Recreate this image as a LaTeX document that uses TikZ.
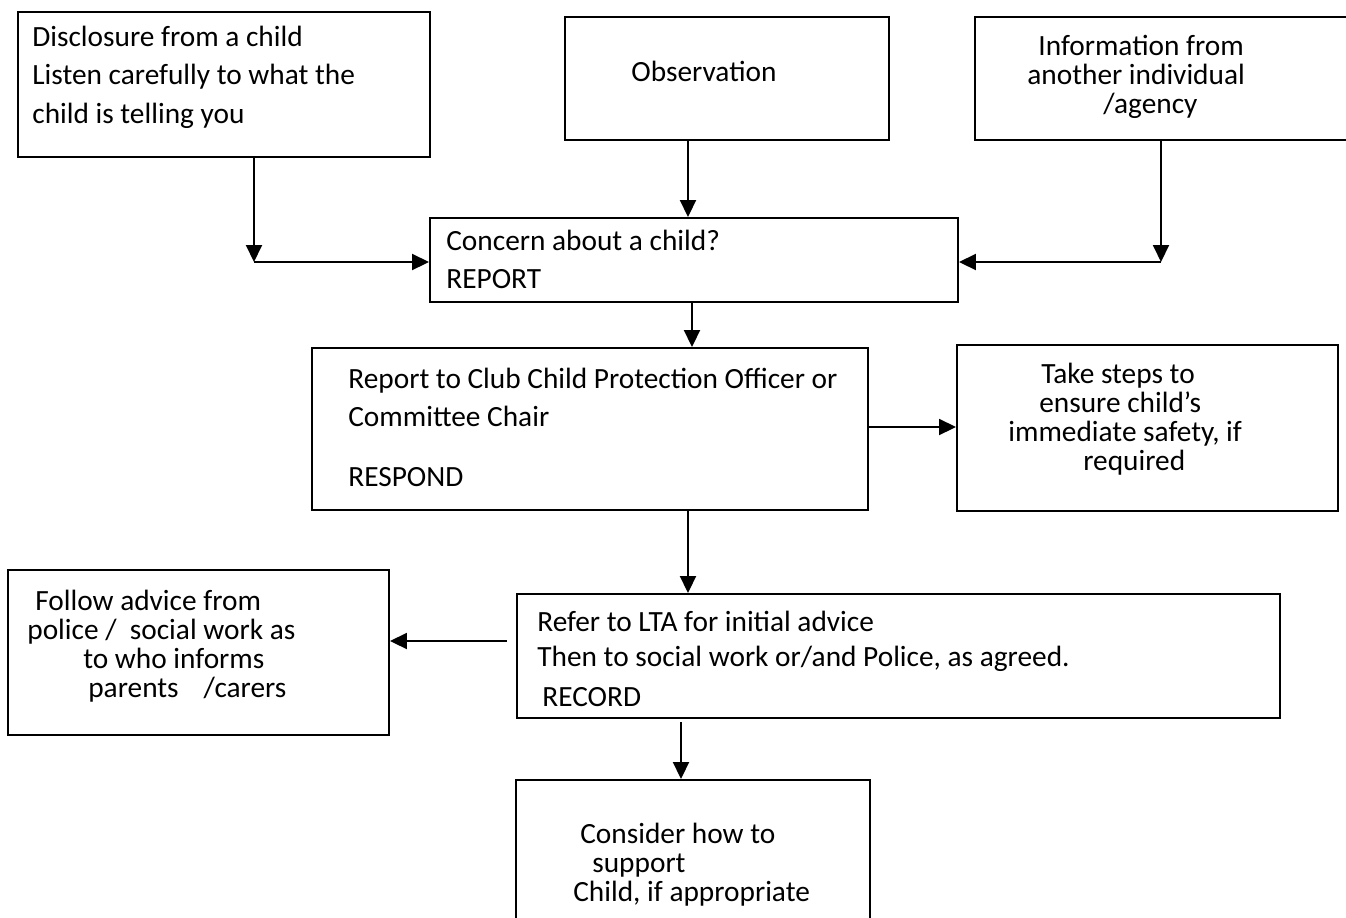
\documentclass[tikz,border=0pt]{standalone}
\usepackage{fontspec}
\setmainfont{Carlito}
\usetikzlibrary{calc}
\usetikzlibrary{fit}
\usetikzlibrary{arrows.meta}

\begin{document}
\begin{tikzpicture}[x=0.02cm, y=-0.02cm,
 box/.style={draw, line width=1.1pt, inner sep=0, fit={#1}},
 txt/.style={inner sep=0, anchor=base west, align=left, font=\fontsize{16.7}{16.4}\selectfont},
 arr/.style={line width=1.1pt, -{Triangle[length=0.34cm,width=0.32cm]}}]
\useasboundingbox (0,0) rectangle (1346,917);
% boxes
\node[box={(18,12) (430,157)}] (disc) {};
\node[box={(565,17) (889,140)}] (obs) {};
\node[box={(975,17) (1352,140)}] (info) {};
\node[box={(430,218) (958,302)}] (concern) {};
\node[box={(312,348) (868,510)}] (report) {};
\node[box={(957,345) (1338,511)}] (steps) {};
\node[box={(8,570) (389,735)}] (follow) {};
\node[box={(517,594) (1280,718)}] (refer) {};
\node[box={(516,780) (870,945)}] (consider) {};
% texts (anchored at the baseline of their last line)
\node[txt] (disctxt) at (32,123) {Disclosure from a child\\[0.19cm]Listen carefully to what the\\[0.19cm]child is telling you};
\node[txt] (obstxt) at (631,81) {Observation};
\node[txt] (infotxt) at (1027,113) {\hspace*{0.22cm}Information from\\another individual\\\hspace*{1.52cm}/agency};
\node[txt] (concerntxt) at (446,288) {Concern about a child?\\[0.18cm]REPORT};
\node[txt] (reporttxt) at (348,486) {Report to Club Child Protection Officer or\\[0.18cm]Committee Chair\\[0.62cm]RESPOND};
\node[txt] (stepstxt) at (1008,470) {\hspace*{0.66cm}Take steps to\\\hspace*{0.62cm}ensure child’s\\immediate safety, if\\\hspace*{1.5cm}required};
\node[txt] (followtxt) at (27,697) {\hspace*{0.16cm}Follow advice from\\police /\ \ social work as\\\hspace*{1.12cm}to who informs\\\hspace*{1.22cm}parents\hspace{0.5cm}/carers};
\node[txt] (refertxt) at (537,706) {Refer to LTA for initial advice\\[0.12cm]Then to social work or/and Police, as agreed.\\[0.22cm]\hspace*{0.1cm}RECORD};
\node[txt] (considertxt) at (573,901) {\hspace*{0.14cm}Consider how to\\\hspace*{0.38cm}support\\Child, if appropriate};
% connectors
\coordinate (jl) at (254,262);
\coordinate (jr) at (1161,262);
\coordinate (xo) at (688,0);
\coordinate (xc) at (692,0);
\coordinate (ys) at (0,427);
\coordinate (yf) at (507,641);
\coordinate (yc) at (681,722);
\draw[arr] (disc.south -| jl) -- (jl);
\draw[arr] (jl) -- (concern.west |- jl);
\draw[arr] (info.south -| jr) -- (jr);
\draw[arr] (jr) -- (concern.east |- jr);
\draw[arr] (obs.south -| xo) -- (concern.north -| xo);
\draw[arr] (concern.south -| xc) -- (report.north -| xc);
\draw[arr] (report.east |- ys) -- (steps.west |- ys);
\draw[arr] (report.south -| xo) -- (refer.north -| xo);
\draw[arr] (yf) -- (follow.east |- yf);
\draw[arr] (yc) -- (consider.north -| yc);
\end{tikzpicture}
\end{document}
